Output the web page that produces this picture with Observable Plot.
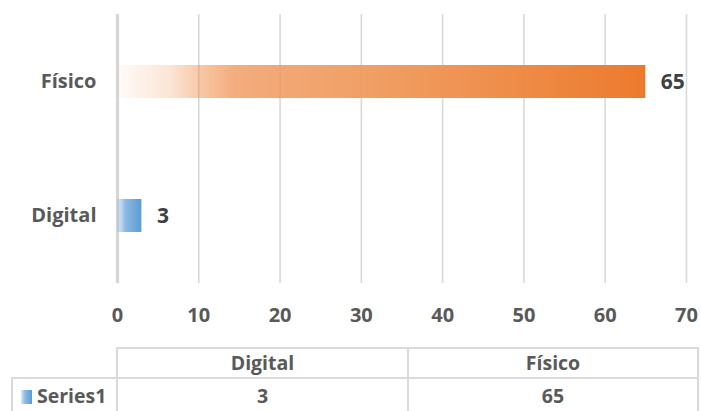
<!DOCTYPE html>
<html>
<head>
<meta charset="utf-8">
<script src="https://cdn.jsdelivr.net/npm/d3@7"></script>
<script src="https://cdn.jsdelivr.net/npm/@observablehq/plot@0.6"></script>
<style>
  body { margin: 0; background: #fff; }
  #wrap { position: relative; width: 701px; height: 411px; overflow: hidden; font-family: "Open Sans", sans-serif; font-weight: bold; color: #595959; }
  #tbl { position: absolute; left: 11px; top: 347px; border-collapse: collapse; font-size: 19.5px; }
  #tbl td { border: 2px solid #dadada; text-align: center; padding: 0; line-height: 1; }
  #tbl td.blank { border: none; border-bottom: 2px solid #dadada; border-right: 2px solid #dadada; }
  .key { display: inline-block; width: 11px; height: 14px; margin-right: 5px; vertical-align: -1px; background: linear-gradient(to right, #ddeaf6, #8fbbe2 35%, #5b9bd5); }
</style>
</head>
<body>
<div id="wrap"></div>
<script>
const categories = ["Físico", "Digital"];
const values = [65, 3];
const seriesName = "Series1";
const tableOrder = ["Digital", "Físico"];
const xTicks = [0, 10, 20, 30, 40, 50, 60, 70];
const fills = {"Físico": "url(#gradOrange)", "Digital": "url(#gradBlue)"};

const data = categories.map((c, i) => ({cat: c, value: values[i]}));

const chart = Plot.plot({
  width: 701,
  height: 335,
  marginLeft: 117,
  marginRight: 15,
  marginTop: 14,
  marginBottom: 52,
  style: {fontFamily: "'Open Sans', sans-serif", fontWeight: "bold", fontSize: "20px", color: "#595959", background: "#fff"},
  x: {domain: [0, 70], ticks: xTicks, tickSize: 0, tickPadding: 24, label: null, grid: false},
  y: {domain: categories, paddingInner: 0.756, paddingOuter: 0.378, tickSize: 0, tickPadding: 21, label: null},
  marks: [
    Plot.ruleX(xTicks, {stroke: "#d9d9d9", strokeWidth: 1.6, strokeOpacity: 1}),
    Plot.ruleX([0], {stroke: "#d6d6d6", strokeWidth: 3.2, strokeOpacity: 1}),
    Plot.barX(data, {x: "value", y: "cat", fill: d => fills[d.cat]}),
    Plot.text(data, {x: "value", y: "cat", text: d => String(d.value), textAnchor: "start", dx: 15, fill: "#404040", fontSize: 21, fontWeight: "bold"})
  ]
});

// gradient definitions
const ns = "http://www.w3.org/2000/svg";
const defs = document.createElementNS(ns, "defs");
function grad(id, stops) {
  const g = document.createElementNS(ns, "linearGradient");
  g.setAttribute("id", id);
  g.setAttribute("x1", "0"); g.setAttribute("x2", "1"); g.setAttribute("y1", "0"); g.setAttribute("y2", "0");
  for (const [o, c, op] of stops) {
    const s = document.createElementNS(ns, "stop");
    s.setAttribute("offset", o);
    s.setAttribute("stop-color", c);
    s.setAttribute("stop-opacity", op);
    g.appendChild(s);
  }
  defs.appendChild(g);
}
grad("gradOrange", [["0", "#ed7d31", 0.03], ["0.1", "#ed7d31", 0.2], ["0.22", "#ef8d4c", 0.72], ["0.45", "#f09c60", 0.95], ["1", "#ec7a2d", 1]]);
grad("gradBlue", [["0", "#5b9bd5", 0.15], ["0.35", "#5b9bd5", 0.7], ["1", "#5b9bd5", 1]]);
chart.insertBefore(defs, chart.firstChild);

const wrap = document.getElementById("wrap");
wrap.appendChild(chart);

// data table below the chart
const tbl = document.createElement("table");
tbl.id = "tbl";
const r1 = tbl.insertRow();
const blank = r1.insertCell(); blank.className = "blank";
blank.style.width = "104px"; blank.style.height = "29px";
tableOrder.forEach((c, i) => {
  const td = r1.insertCell();
  td.textContent = c;
  td.style.width = i === 0 ? "289px" : "288px";
});
const r2 = tbl.insertRow();
const lab = r2.insertCell();
lab.innerHTML = '<span class="key"></span>' + seriesName;
lab.style.height = "34px";
lab.style.textAlign = "left";
lab.style.paddingLeft = "8px";
tableOrder.forEach(c => {
  const td = r2.insertCell();
  td.textContent = String(values[categories.indexOf(c)]);
});
wrap.appendChild(tbl);
</script>
</body>
</html>
